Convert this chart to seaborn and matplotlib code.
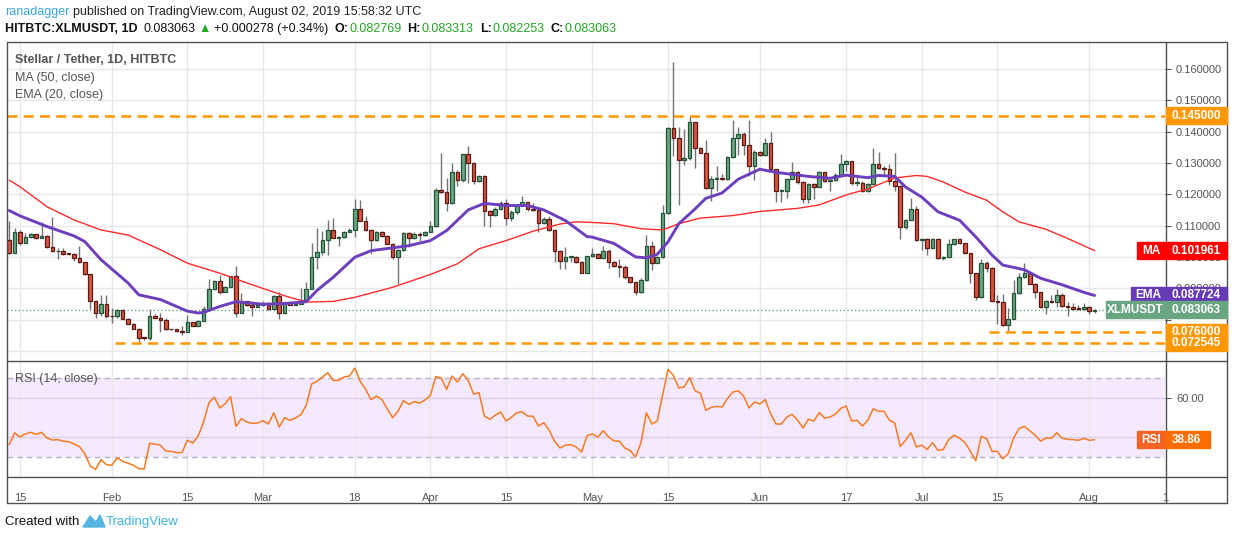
import datetime as dt
import numpy as np
import pandas as pd
import matplotlib
matplotlib.use("Agg")
import matplotlib.pyplot as plt
import matplotlib.dates as mdates
from matplotlib.patches import Rectangle, Polygon
from matplotlib.lines import Line2D
import seaborn as sns

sns.set_theme(style="white")
plt.rcParams['font.family'] = ['Liberation Sans', 'DejaVu Sans']

# daily candles from 2019-01-13, open = previous close
start = dt.date(2019, 1, 13)
first_open = 0.1054
closes = [0.1014, 0.1079, 0.1044, 0.1062, 0.1072, 0.1060, 0.1067, 0.1031, 0.1018, 0.1020,
          0.1010, 0.1009, 0.0996, 0.0983, 0.0945, 0.0860, 0.0821, 0.0850, 0.0811, 0.0810,
          0.0831, 0.0803, 0.0787, 0.0771, 0.0742, 0.0741, 0.0811, 0.0806, 0.0798, 0.0770,
          0.0769, 0.0762, 0.0761, 0.0792, 0.0781, 0.0796, 0.0833, 0.0898, 0.0923, 0.0888,
          0.0904, 0.0938, 0.0821, 0.0858, 0.0845, 0.0840, 0.0845, 0.0848, 0.0834, 0.0875,
          0.0821, 0.0855, 0.0847, 0.0849, 0.0863, 0.0898, 0.1001, 0.1017, 0.1055, 0.1087,
          0.1061, 0.1063, 0.1079, 0.1086, 0.1153, 0.1116, 0.1086, 0.1054, 0.1080, 0.1067,
          0.1042, 0.0999, 0.1022, 0.1077, 0.1061, 0.1073, 0.1071, 0.1080, 0.1099, 0.1214,
          0.1206, 0.1171, 0.1270, 0.1244, 0.1327, 0.1300, 0.1242, 0.1259, 0.1148, 0.1134,
          0.1154, 0.1173, 0.1125, 0.1143, 0.1165, 0.1176, 0.1152, 0.1149, 0.1109, 0.1121,
          0.1086, 0.1020, 0.0988, 0.0999, 0.0999, 0.0984, 0.0950, 0.1003, 0.1010, 0.0998,
          0.1020, 0.0984, 0.0970, 0.0969, 0.0935, 0.0921, 0.0887, 0.0925, 0.1036, 0.0982,
          0.1000, 0.1141, 0.1410, 0.1381, 0.1309, 0.1315, 0.1430, 0.1349, 0.1333, 0.1220,
          0.1248, 0.1251, 0.1248, 0.1318, 0.1381, 0.1391, 0.1356, 0.1289, 0.1336, 0.1324,
          0.1365, 0.1280, 0.1210, 0.1210, 0.1248, 0.1270, 0.1238, 0.1185, 0.1234, 0.1224,
          0.1270, 0.1242, 0.1244, 0.1263, 0.1296, 0.1305, 0.1236, 0.1237, 0.1209, 0.1234,
          0.1296, 0.1283, 0.1281, 0.1242, 0.1227, 0.1094, 0.1119, 0.1154, 0.1054, 0.1057,
          0.1030, 0.1056, 0.0996, 0.1001, 0.1040, 0.1056, 0.1043, 0.1011, 0.0948, 0.0872,
          0.0980, 0.0965, 0.0858, 0.0857, 0.0783, 0.0803, 0.0885, 0.0935, 0.0948, 0.0914,
          0.0887, 0.0840, 0.0858, 0.0857, 0.0879, 0.0844, 0.0839, 0.0835, 0.0833, 0.0840,
          0.0826, 0.083063]
highs = [0.1115, 0.1091, 0.1086, 0.1075, 0.1075, 0.1073, 0.1113, 0.1070, 0.1126, 0.1028,
         0.1027, 0.1011, 0.1011, 0.1036, 0.0985, 0.0947, 0.0861, 0.0877, 0.0879, 0.0837,
         0.0833, 0.0833, 0.0804, 0.0788, 0.0772, 0.0743, 0.0834, 0.0817, 0.0821, 0.0804,
         0.0771, 0.0771, 0.0779, 0.0816, 0.0792, 0.0798, 0.0842, 0.0929, 0.0925, 0.0943,
         0.0908, 0.0940, 0.0970, 0.0885, 0.0860, 0.0858, 0.0848, 0.0858, 0.0855, 0.0879,
         0.0887, 0.0857, 0.0857, 0.0852, 0.0900, 0.0919, 0.1045, 0.1093, 0.1084, 0.1118,
         0.1125, 0.1067, 0.1084, 0.1091, 0.1185, 0.1183, 0.1132, 0.1088, 0.1082, 0.1082,
         0.1070, 0.1043, 0.1025, 0.1080, 0.1078, 0.1078, 0.1078, 0.1084, 0.1114, 0.1220,
         0.1333, 0.1251, 0.1299, 0.1276, 0.1329, 0.1355, 0.1302, 0.1261, 0.1261, 0.1150,
         0.1159, 0.1178, 0.1185, 0.1149, 0.1170, 0.1195, 0.1174, 0.1172, 0.1154, 0.1129,
         0.1131, 0.1088, 0.1022, 0.1033, 0.1003, 0.1002, 0.0986, 0.1004, 0.1029, 0.1011,
         0.1035, 0.1025, 0.0986, 0.0993, 0.0974, 0.0937, 0.0924, 0.0934, 0.1069, 0.1052,
         0.1004, 0.1166, 0.1414, 0.1623, 0.1416, 0.1409, 0.1451, 0.1432, 0.1352, 0.1373,
         0.1259, 0.1291, 0.1264, 0.1322, 0.1438, 0.1415, 0.1399, 0.1438, 0.1341, 0.1339,
         0.1379, 0.1398, 0.1280, 0.1216, 0.1253, 0.1303, 0.1274, 0.1242, 0.1236, 0.1236,
         0.1274, 0.1272, 0.1248, 0.1267, 0.1328, 0.1309, 0.1307, 0.1259, 0.1242, 0.1236,
         0.1348, 0.1335, 0.1290, 0.1297, 0.1331, 0.1231, 0.1122, 0.1189, 0.1162, 0.1060,
         0.1060, 0.1059, 0.1061, 0.1003, 0.1058, 0.1058, 0.1058, 0.1045, 0.1013, 0.0950,
         0.0992, 0.0986, 0.0967, 0.0880, 0.0882, 0.0837, 0.0927, 0.0948, 0.0980, 0.0948,
         0.0917, 0.0889, 0.0861, 0.0879, 0.0897, 0.0884, 0.0855, 0.0853, 0.0846, 0.0853,
         0.0842, 0.083313]
lows = [0.1009, 0.1014, 0.1038, 0.1044, 0.1059, 0.1057, 0.1059, 0.1028, 0.1016, 0.0993,
        0.1006, 0.1007, 0.0988, 0.0980, 0.0943, 0.0834, 0.0804, 0.0811, 0.0804, 0.0789,
        0.0806, 0.0802, 0.0786, 0.0770, 0.0728, 0.0736, 0.0736, 0.0804, 0.0760, 0.0768,
        0.0768, 0.0760, 0.0752, 0.0760, 0.0779, 0.0780, 0.0795, 0.0827, 0.0896, 0.0881,
        0.0887, 0.0903, 0.0809, 0.0820, 0.0842, 0.0811, 0.0840, 0.0843, 0.0831, 0.0834,
        0.0802, 0.0817, 0.0845, 0.0846, 0.0850, 0.0860, 0.0897, 0.0962, 0.1007, 0.1007,
        0.1059, 0.1036, 0.1059, 0.1078, 0.1063, 0.1114, 0.1084, 0.1010, 0.1052, 0.1065,
        0.1040, 0.0993, 0.0912, 0.1020, 0.1031, 0.1058, 0.1051, 0.1068, 0.1078, 0.1097,
        0.1203, 0.1146, 0.1169, 0.1225, 0.1238, 0.1236, 0.1233, 0.1240, 0.1100, 0.1095,
        0.1132, 0.1151, 0.1103, 0.1114, 0.1138, 0.1163, 0.1148, 0.1146, 0.1079, 0.1106,
        0.1084, 0.0985, 0.0962, 0.0962, 0.0984, 0.0982, 0.0948, 0.0948, 0.1001, 0.0996,
        0.0995, 0.0966, 0.0968, 0.0936, 0.0931, 0.0918, 0.0877, 0.0885, 0.0923, 0.0957,
        0.0980, 0.0997, 0.1138, 0.1322, 0.1166, 0.1293, 0.1309, 0.1285, 0.1331, 0.1217,
        0.1180, 0.1210, 0.1246, 0.1246, 0.1316, 0.1324, 0.1324, 0.1259, 0.1246, 0.1322,
        0.1322, 0.1278, 0.1174, 0.1174, 0.1187, 0.1248, 0.1233, 0.1172, 0.1172, 0.1185,
        0.1222, 0.1240, 0.1210, 0.1242, 0.1261, 0.1274, 0.1230, 0.1227, 0.1206, 0.1206,
        0.1232, 0.1280, 0.1259, 0.1228, 0.1212, 0.1058, 0.1088, 0.1117, 0.1052, 0.1022,
        0.1006, 0.1033, 0.0992, 0.0990, 0.0999, 0.1038, 0.1041, 0.1009, 0.0918, 0.0861,
        0.0870, 0.0953, 0.0855, 0.0785, 0.0781, 0.0762, 0.0802, 0.0883, 0.0933, 0.0912,
        0.0868, 0.0838, 0.0818, 0.0853, 0.0840, 0.0840, 0.0811, 0.0832, 0.0831, 0.0832,
        0.0819, 0.082253]

rsi = [36.4, 42.3, 40.3, 41.8, 42.6, 41.6, 42.6, 39.7, 38.7, 38.9,
       38.1, 37.9, 36.7, 35.4, 31.8, 25.6, 23.9, 28.8, 26.3, 26.0,
       29.7, 28.0, 27.0, 26.0, 24.3, 24.1, 37.1, 36.6, 36.1, 33.2,
       33.0, 32.4, 32.4, 38.6, 37.2, 40.8, 47.8, 57.6, 60.3, 54.9,
       57.1, 60.6, 45.6, 49.5, 47.8, 47.1, 47.3, 48.5, 46.8, 52.5,
       45.3, 50.0, 48.7, 49.8, 51.5, 56.2, 67.0, 68.3, 70.5, 72.7,
       68.8, 68.8, 70.5, 71.0, 75.0, 68.3, 64.3, 59.1, 60.9, 59.2,
       54.5, 50.0, 53.2, 58.6, 56.7, 58.1, 57.4, 58.9, 61.3, 70.8,
       70.0, 64.3, 71.0, 68.0, 72.2, 68.8, 61.9, 62.6, 50.8, 49.2,
       51.2, 52.9, 48.3, 50.2, 52.5, 52.9, 50.8, 50.7, 45.8, 47.5,
       43.6, 38.1, 34.7, 36.1, 36.4, 35.2, 32.7, 40.8, 41.8, 40.1,
       43.4, 40.3, 38.2, 38.1, 34.7, 33.4, 30.2, 37.4, 52.5, 46.8,
       48.3, 61.3, 74.4, 71.3, 65.0, 65.5, 70.2, 63.6, 62.3, 53.7,
       55.2, 55.7, 55.4, 59.6, 62.9, 63.6, 60.9, 54.9, 57.9, 56.9,
       59.1, 52.0, 46.8, 46.8, 50.3, 51.7, 48.7, 44.8, 49.2, 48.3,
       52.5, 49.8, 50.3, 51.8, 54.7, 55.9, 48.3, 48.7, 45.8, 48.7,
       54.5, 53.2, 53.2, 48.7, 47.3, 35.5, 38.6, 42.4, 35.2, 36.1,
       34.0, 37.4, 33.5, 34.0, 39.1, 41.1, 39.7, 37.4, 33.0, 28.2,
       40.6, 39.4, 33.0, 33.0, 29.2, 31.8, 39.7, 44.5, 45.6, 43.4,
       41.1, 38.2, 39.7, 39.6, 42.4, 39.6, 39.1, 38.9, 38.6, 39.6,
       38.6, 38.86]

# moving averages (day index, value)
ema_day = [0, 2, 7, 12, 14, 17, 22, 24, 28, 33, 35, 36, 39, 42, 47, 51, 55, 57, 60, 64,
           67, 71, 74, 78, 81, 85, 88, 92, 96, 99, 103, 107, 108, 112, 116, 118, 120, 122,
           124, 127, 129, 132, 135, 139, 142, 148, 152, 155, 159, 161, 164, 166, 169, 172,
           176, 179, 182, 184, 188, 191, 195, 199, 201]
ema_val = [0.1148, 0.1131, 0.1097, 0.1067, 0.1049, 0.0991, 0.0917, 0.0879, 0.0864, 0.0827,
           0.0821, 0.0823, 0.0842, 0.0857, 0.0849, 0.0851, 0.0857, 0.0893, 0.0935, 0.0999,
           0.1020, 0.1029, 0.1036, 0.1052, 0.1084, 0.1150, 0.1171, 0.1164, 0.1164, 0.1150,
           0.1116, 0.1065, 0.1063, 0.1043, 0.1000, 0.0997, 0.1008, 0.1048, 0.1106, 0.1153,
           0.1187, 0.1204, 0.1248, 0.1280, 0.1270, 0.1257, 0.1251, 0.1261, 0.1253, 0.1260,
           0.1257, 0.1223, 0.1191, 0.1144, 0.1117, 0.1064, 0.1006, 0.0974, 0.0959, 0.0932,
           0.0911, 0.0887, 0.0877]
ma_day = [0, 2, 7, 12, 17, 22, 28, 33, 39, 45, 51, 55, 60, 64, 71, 78, 83, 87, 92, 97,
          102, 105, 108, 112, 117, 121, 124, 128, 134, 139, 146, 150, 155, 159, 162, 164,
          168, 170, 173, 177, 181, 184, 187, 192, 196, 201]
ma_val = [0.1245, 0.1224, 0.1160, 0.1118, 0.1086, 0.1070, 0.1023, 0.0980, 0.0948, 0.0911,
          0.0876, 0.0856, 0.0858, 0.0871, 0.0903, 0.0944, 0.0978, 0.1026, 0.1052, 0.1082,
          0.1105, 0.1112, 0.1110, 0.1106, 0.1090, 0.1086, 0.1106, 0.1124, 0.1132, 0.1145,
          0.1155, 0.1166, 0.1198, 0.1217, 0.1238, 0.1252, 0.1260, 0.1257, 0.1239, 0.1207,
          0.1181, 0.1144, 0.1112, 0.1088, 0.1059, 0.1020]

tick_dates = ['2019-01-15', '2019-02-01', '2019-02-15', '2019-03-01', '2019-03-18',
              '2019-04-01', '2019-04-15', '2019-05-01', '2019-05-15', '2019-06-01',
              '2019-06-17', '2019-07-01', '2019-07-15', '2019-08-01', '2019-08-15']
tick_labels = ['15', 'Feb', '15', 'Mar', '18', 'Apr', '15', 'May', '15', 'Jun',
               '17', 'Jul', '15', 'Aug', '1']
price_ticks = [0.07, 0.08, 0.09, 0.10, 0.11, 0.12, 0.13, 0.14, 0.15, 0.16]
price_labels = ['', '', '0.090000', '0.100000', '0.110000', '0.120000', '0.130000',
                '0.140000', '0.150000', '0.160000']

W, H = 1234, 540
def fx(px):
    return px / W
def fy(py):
    return 1 - py / H

base = mdates.date2num(start)
x = base + np.arange(len(closes))
opens = [first_open] + closes[:-1]
tick_x = [mdates.date2num(pd.Timestamp(d)) for d in tick_dates]

fig = plt.figure(figsize=(W / 100, H / 100), dpi=100)
ax = fig.add_axes([fx(7), fy(360), (1165 - 7) / W, (360 - 42) / H])
ax2 = fig.add_axes([fx(7), fy(476), (1165 - 7) / W, (476 - 361) / H])

for a in (ax, ax2):
    a.set_xlim(base - 0.41, base + 214.04)
    for s in a.spines.values():
        s.set_visible(False)
    a.set_xticks(tick_x)
    a.grid(axis='x', color='#e8e8e8', lw=1)
    a.set_axisbelow(True)

# ---- price pane ----
ax.set_ylim(0.0671, 0.1686)
ax.set_yticks(price_ticks)
ax.set_yticklabels(price_labels)
ax.yaxis.tick_right()
ax.grid(axis='y', color='#e8e8e8', lw=1)
ax.tick_params(axis='x', length=0, labelbottom=False)
ax.tick_params(axis='y', length=4, width=0.8, color='#555555', labelcolor='#555555',
               labelsize=8, pad=4)

up_fill, up_edge = '#6ba583', '#225437'
dn_fill, dn_edge = '#d75442', '#5b1a13'
hi = np.maximum(np.maximum(highs, opens), closes)
lo = np.minimum(np.minimum(lows, opens), closes)
ax.vlines(x, lo, hi, color='#737375', lw=1, zorder=3)
o = np.array(opens)
c = np.array(closes)
up = c >= o
bottom = np.minimum(o, c)
height = np.maximum(np.abs(c - o), 0.00025)
ax.bar(x[up], height[up], bottom=bottom[up], width=0.68, color=up_fill,
       edgecolor=up_edge, linewidth=0.9, zorder=4)
ax.bar(x[~up], height[~up], bottom=bottom[~up], width=0.68, color=dn_fill,
       edgecolor=dn_edge, linewidth=0.9, zorder=4)

ma_df = pd.DataFrame({'x': base + np.array(ma_day), 'y': ma_val})
ema_df = pd.DataFrame({'x': base + np.array(ema_day), 'y': ema_val})
sns.lineplot(data=ma_df, x='x', y='y', ax=ax, color='#ff2a2a', lw=1,
             estimator=None, sort=False, legend=False, zorder=5)
sns.lineplot(data=ema_df, x='x', y='y', ax=ax, color='#6c3fbf', lw=2.1,
             estimator=None, sort=False, legend=False, zorder=5)
ax.set_xlabel('')
ax.set_ylabel('')

orange = '#ff9800'
dash = (0, (4, 2.5))
ax.hlines(0.145, base - 0.41, base + 214.04, colors=orange, linestyles=dash, lw=1.8, zorder=6)
ax.hlines(0.072545, base + 19.6, base + 214.04, colors=orange, linestyles=dash, lw=1.8, zorder=6)
ax.hlines(0.076, base + 181.5, base + 214.04, colors=orange, linestyles=dash, lw=1.8, zorder=6)
ax.axhline(0.083063, color='#4f9a6e', ls=(0, (1, 2)), lw=0.9, zorder=2)

# ---- RSI pane ----
ax2.set_ylim(20.56, 78.6)
ax2.axhspan(30, 70, color='#9915ff', alpha=0.09, lw=0, zorder=0)
for v in (40, 60):
    ax2.axhline(v, color='#dccde6', lw=1, zorder=1)
for v in (30, 70):
    ax2.axhline(v, color='#b9afc0', lw=1, ls=(0, (4, 3)), zorder=1)
rsi_df = pd.DataFrame({'x': x, 'rsi': rsi})
sns.lineplot(data=rsi_df, x='x', y='rsi', ax=ax2, color='#f57a22', lw=1.1,
             estimator=None, sort=False, legend=False, zorder=4)
ax2.set_xlabel('')
ax2.set_ylabel('')
ax2.set_yticks([60])
ax2.set_yticklabels(['60.00'])
ax2.yaxis.tick_right()
ax2.tick_params(axis='y', length=4, width=0.8, color='#555555', labelcolor='#555555',
                labelsize=8, pad=4)
ax2.set_xticklabels(tick_labels)
ax2.tick_params(axis='x', length=5, width=0.8, color='#555555', labelcolor='#555555',
                labelsize=8, pad=7)

# ---- frame ----
frame_c = '#505050'
def hline_px(y, x0, x1):
    fig.add_artist(Line2D([fx(x0), fx(x1)], [fy(y), fy(y)], color=frame_c, lw=1))
def vline_px(xp, y0, y1):
    fig.add_artist(Line2D([fx(xp), fx(xp)], [fy(y0), fy(y1)], color=frame_c, lw=1))
hline_px(42, 7, 1227)
hline_px(360.5, 7, 1227)
hline_px(476.5, 7, 1227)
hline_px(503, 7, 1227)
vline_px(7, 42, 503)
vline_px(1227, 42, 503)
vline_px(1165.5, 42, 503)

# ---- value tags ----
def ypx(a, v):
    return H - a.transData.transform((base, v))[1]

def box(x0, x1, yc, color, text, ha='center', tx=None):
    fig.add_artist(Rectangle((fx(x0), fy(yc + 8.5)), (x1 - x0) / W, 17 / H,
                             transform=fig.transFigure, color=color, zorder=10))
    if tx is None:
        tx = (x0 + x1) / 2
    fig.text(fx(tx), fy(yc), text, color='white', fontsize=8.5, fontweight='bold',
             ha=ha, va='center', zorder=11)

box(1166, 1227, ypx(ax, 0.145), orange, '0.145000', ha='left', tx=1172)
y_ma = ypx(ax, 0.101961)
box(1137, 1165, y_ma, '#ff0000', 'MA')
box(1166, 1227, y_ma, '#ff0000', '0.101961', ha='left', tx=1172)
y_ema = ypx(ax, 0.087724)
box(1131, 1165, y_ema, '#673ab7', 'EMA')
box(1166, 1227, y_ema, '#673ab7', '0.087724', ha='left', tx=1172)
y_px = ypx(ax, 0.083063)
box(1106, 1165, y_px, '#6aa582', 'XLMUSDT')
box(1166, 1227, y_px, '#6aa582', '0.083063', ha='left', tx=1172)
box(1166, 1227, ypx(ax, 0.076), orange, '0.076000', ha='left', tx=1172)
box(1166, 1227, ypx(ax, 0.072545), orange, '0.072545', ha='left', tx=1172)
y_rsi = ypx(ax2, 38.86)
box(1137, 1165, y_rsi, '#f26522', 'RSI')
box(1166, 1210, y_rsi, '#ff6d00', '38.86', ha='left', tx=1172)

# ---- texts ----
grey = '#555555'
fig.text(fx(15), fy(60), 'Stellar / Tether, 1D, HITBTC', color=grey, fontsize=9,
         fontweight='bold', va='center')
fig.text(fx(15), fy(78), 'MA (50, close)', color=grey, fontsize=9, va='center')
fig.text(fx(15), fy(95), 'EMA (20, close)', color=grey, fontsize=9, va='center')
fig.text(fx(15), fy(379), 'RSI (14, close)', color=grey, fontsize=9, va='center')

renderer = fig.canvas.get_renderer()

def text_row(y, items, size=9):
    xpos = 5
    for t, col, fw, gap in items:
        txt = fig.text(fx(xpos), fy(y), t, color=col, fontsize=size, fontweight=fw,
                       va='center')
        xpos += txt.get_window_extent(renderer).width + gap

text_row(12, [('ranadagger', '#3ba7de', 'normal', 4),
              ('published on TradingView.com, August 02, 2019 15:58:32 UTC', '#222222',
               'normal', 0)])
green_t = '#22a822'
black = '#111111'
text_row(29, [('HITBTC:XLMUSDT, 1D', black, 'bold', 6),
              ('0.083063', black, 'normal', 3),
              ('\u25b2', green_t, 'normal', 3),
              ('+0.000278 (+0.34%)', black, 'normal', 6),
              ('O:', black, 'bold', 1),
              ('0.082769', green_t, 'normal', 6),
              ('H:', black, 'bold', 1),
              ('0.083313', green_t, 'normal', 6),
              ('L:', black, 'bold', 1),
              ('0.082253', green_t, 'normal', 6),
              ('C:', black, 'bold', 1),
              ('0.083063', green_t, 'normal', 0)])

fig.text(fx(5), fy(522), 'Created with', color=black, fontsize=9.5, va='center')
fig.add_artist(Polygon([[fx(83), fy(527)], [fx(90), fy(516)], [fx(96), fy(522)],
                        [fx(100), fy(515)], [fx(105), fy(527)]],
                       closed=True, transform=fig.transFigure, color='#56b4e0'))
fig.text(fx(106), fy(522), 'TradingView', color='#3bb3e4', fontsize=9.5, va='center')

fig.savefig('out.png', dpi=100)
